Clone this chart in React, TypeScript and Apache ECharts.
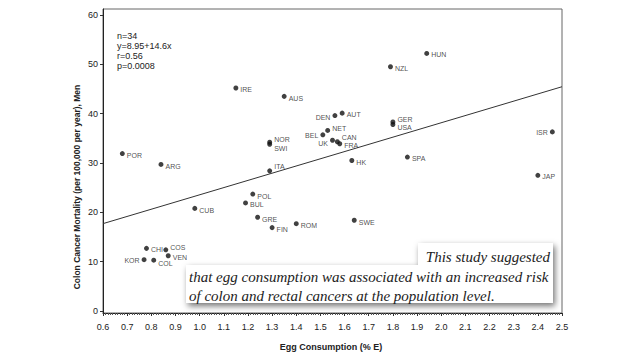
import React, { useEffect, useRef } from "react";
import * as echarts from "echarts";

// ---- data ----
const countries = [
  "POR", "ARG", "CUB", "IRE", "AUS", "NOR", "SWI", "ITA", "POL", "BUL", "GRE", "FIN",
  "ROM", "SWE", "HK", "SPA", "JAP", "ISR", "DEN", "AUT", "NET", "BEL", "UK", "CAN",
  "FRA", "GER", "USA", "NZL", "HUN", "CHI", "COS", "VEN", "KOR", "COL",
];
const eggConsumption = [
  0.68, 0.84, 0.98, 1.15, 1.35, 1.29, 1.29, 1.29, 1.22, 1.19, 1.24, 1.30,
  1.40, 1.64, 1.63, 1.86, 2.40, 2.46, 1.56, 1.59, 1.53, 1.51, 1.55, 1.57,
  1.58, 1.80, 1.80, 1.79, 1.94, 0.78, 0.86, 0.87, 0.77, 0.81,
];
const colonMortality = [
  31.9, 29.7, 20.8, 45.2, 43.5, 34.2, 33.8, 28.4, 23.7, 21.9, 19.0, 16.9,
  17.7, 18.4, 30.5, 31.2, 27.5, 36.3, 39.6, 40.1, 36.6, 35.7, 34.6, 34.3,
  33.9, 38.3, 37.8, 49.5, 52.2, 12.7, 12.4, 11.2, 10.4, 10.3,
];
// fitted regression line endpoints (y = 8.95 + 14.6x)
const fitX = [0.6, 2.5];
const fitY = [17.71, 45.45];
const xTickLabels = ["0.6","0.7","0.8","0.9","1.0","1.1","1.2","1.3","1.4","1.5","1.6","1.7","1.8","1.9","2.0","2.1","2.2","2.3","2.4","2.5"];
const yTickValues = [0, 10, 20, 30, 40, 50, 60];
const statsLines = ["n=34", "y=8.95+14.6x", "r=0.56", "p=0.0008"];
const noteLines = [
  "This study suggested",
  "that egg consumption was associated with an increased risk",
  "of colon and rectal cancers at the population level.",
];

// label placement (style, kept apart from the data)
const labelPlacement: Record<string, [string, number, number]> = {
  POR: ["right", 0, 2], ARG: ["right", 0, 2], CUB: ["right", 0, 2], IRE: ["right", 0, 2],
  AUS: ["right", 0, 2], NOR: ["right", 0, -3], SWI: ["right", 0, 4], ITA: ["right", 0, -4],
  POL: ["right", 0, 2], BUL: ["right", 0, 2], GRE: ["right", 0, 2], FIN: ["right", 0, 2],
  ROM: ["right", 0, 2], SWE: ["right", 0, 2], HK: ["right", 0, 2], SPA: ["right", 0, 1],
  JAP: ["right", 0, 1], ISR: ["left", 0, 1], DEN: ["left", 0, 2], AUT: ["right", 0, 1],
  NET: ["right", 0, -2], BEL: ["left", 0, 1], UK: ["left", 0, 3], CAN: ["right", 0, -4],
  FRA: ["right", 0, 2], GER: ["right", 0, -3], USA: ["right", 0, 3], NZL: ["right", 0, 2],
  HUN: ["right", 0, 1], CHI: ["right", 0, 1], COS: ["right", 0, -2], VEN: ["right", 0, 2],
  KOR: ["left", 0, 1], COL: ["right", 0, 3],
};

export default function App() {
  const ref = useRef<HTMLDivElement>(null);
  useEffect(() => {
    if (!ref.current) return;
    const chart = echarts.init(ref.current, null, { renderer: "svg" });
    const font = "'Liberation Sans', Arial, sans-serif";
    const serif = "'Liberation Serif', 'Times New Roman', serif";

    const points = countries.map((c, i) => {
      const p = labelPlacement[c];
      return {
        name: c,
        value: [eggConsumption[i], colonMortality[i]],
        label: { position: p[0], offset: [p[1], p[2]] },
      };
    });

    chart.setOption({
      animation: false,
      backgroundColor: "#ffffff",
      grid: {
        left: 103, right: 78, top: 9, bottom: 47,
        show: true, borderColor: "#666", borderWidth: 1, backgroundColor: "transparent",
      },
      xAxis: {
        type: "value",
        min: 0.6, max: 2.5, interval: 0.1,
        axisLine: { show: true, onZero: false, lineStyle: { color: "#222", width: 1 } },
        axisTick: { show: true, inside: false, length: 3, lineStyle: { color: "#333" } },
        minorTick: { show: true, splitNumber: 10, length: 2, lineStyle: { color: "#555" } },
        splitLine: { show: false },
        axisLabel: {
          margin: 9, fontSize: 9, color: "#222", fontFamily: font,
          formatter: (v: number) => xTickLabels[Math.round((v - 0.6) * 10)] ?? "",
        },
      },
      yAxis: {
        type: "value",
        min: -0.4, max: 61.2,
        axisLine: { show: true, onZero: false, lineStyle: { color: "#222", width: 1 } },
        axisTick: { show: true, length: 3, customValues: yTickValues, lineStyle: { color: "#333" } },
        splitLine: { show: false },
        axisLabel: {
          margin: 5, fontSize: 9, color: "#222", fontFamily: font,
          customValues: yTickValues,
        },
      },
      series: [
        {
          type: "line",
          data: fitX.map((x, i) => [x, fitY[i]]),
          symbol: "none",
          lineStyle: { color: "#333", width: 1 },
          silent: true,
          z: 2,
        },
        {
          type: "scatter",
          data: points,
          symbol: "circle",
          symbolSize: 5,
          itemStyle: { color: "#111" },
          label: {
            show: true,
            formatter: (p: any) => p.name,
            fontSize: 7,
            color: "#222",
            fontFamily: font,
            distance: 2,
          },
          z: 3,
        },
      ],
      graphic: [
        {
          type: "text",
          x: 77, y: 187, rotation: Math.PI / 2,
          style: {
            text: "Colon Cancer Mortality (per 100,000 per year), Men",
            fontSize: 8.5, fontWeight: "bold", fontFamily: font, fill: "#222",
            textAlign: "center", textVerticalAlign: "middle",
          },
        },
        {
          type: "text",
          x: 331, y: 347,
          style: {
            text: "Egg Consumption (% E)",
            fontSize: 9, fontWeight: "bold", fontFamily: font, fill: "#222",
            textAlign: "center", textVerticalAlign: "middle",
          },
        },
        ...statsLines.map((t, i) => ({
          type: "text",
          x: 117, y: 36 + i * 10,
          style: {
            text: t, fontSize: 9, fontFamily: font, fill: "#222",
            textAlign: "left", textVerticalAlign: "middle",
          },
        })),
        {
          type: "polygon",
          shape: {
            points: [[418, 243], [553, 243], [553, 303], [186, 303], [186, 265], [418, 265]],
          },
          style: {
            fill: "#ffffff",
            shadowBlur: 6, shadowOffsetX: 2, shadowOffsetY: 3,
            shadowColor: "rgba(0,0,0,0.55)",
          },
          z: 10,
        },
        {
          type: "text",
          x: 550, y: 257,
          style: {
            text: noteLines[0], fontSize: 15, fontStyle: "italic", fontFamily: serif, fill: "#222",
            textAlign: "right", textVerticalAlign: "middle",
          },
          z: 11,
        },
        {
          type: "text",
          x: 189, y: 277,
          style: {
            text: noteLines[1], fontSize: 15, fontStyle: "italic", fontFamily: serif, fill: "#222",
            textAlign: "left", textVerticalAlign: "middle",
          },
          z: 11,
        },
        {
          type: "text",
          x: 189, y: 296,
          style: {
            text: noteLines[2], fontSize: 15, fontStyle: "italic", fontFamily: serif, fill: "#222",
            textAlign: "left", textVerticalAlign: "middle",
          },
          z: 11,
        },
      ],
    });
    return () => chart.dispose();
  }, []);
  return <div ref={ref} style={{ width: 640, height: 360, position: "absolute", left: 0, top: 0 }} />;
}
